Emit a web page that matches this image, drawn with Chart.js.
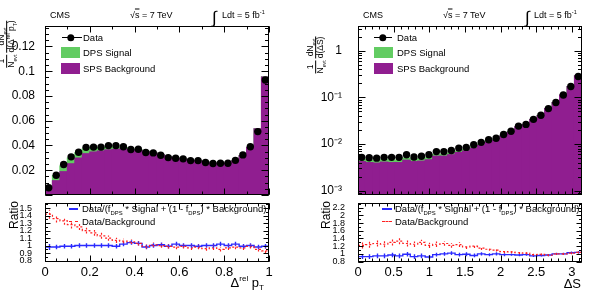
<!DOCTYPE html>
<html>
<head>
<meta charset="utf-8">
<script src="https://cdn.jsdelivr.net/npm/chart.js@4"></script>
<style>
body { margin: 0; width: 589px; height: 293px; background: #fff; position: relative; overflow: hidden; font-family: "Liberation Sans", Arial, sans-serif; color: #000; }
canvas { position: absolute; }
.lbl { position: absolute; white-space: nowrap; line-height: 1; transform: translateY(-50%); }
.lbl sub, .lbl sup, .ytitle sub, .ytitle sup { font-size: 0.62em; line-height: 0; }
.ytitle { position: absolute; white-space: nowrap; font-size: 8.5px; display: flex; align-items: center; gap: 2px; transform: translate(-50%, -50%) rotate(-90deg); }
.fr { display: inline-flex; flex-direction: column; text-align: center; line-height: 1.1; }
.fr .num { border-bottom: 0.8px solid #000; }
.rot { position: absolute; white-space: nowrap; font-size: 12px; transform: translate(-50%, -50%) rotate(-90deg); }
.box { position: absolute; }
.dot { position: absolute; width: 7.4px; height: 7.4px; border-radius: 50%; background: #000; transform: translate(-50%, -50%); }
</style>
</head>
<body>
<canvas id="ptMain" width="290" height="200" style="left:0;top:0"></canvas>
<canvas id="ptRatio" width="290" height="95" style="left:0;top:198px"></canvas>
<canvas id="dsMain" width="294" height="200" style="left:295px;top:0"></canvas>
<canvas id="dsRatio" width="294" height="95" style="left:295px;top:198px"></canvas>

<!-- header, left -->
<div class="lbl" style="left:50px;top:15px;font-size:9px">CMS</div>
<div class="lbl" style="left:130px;top:15px;font-size:9px">√<span style="text-decoration:overline">s</span> = 7 TeV</div>
<div class="lbl" style="left:212px;top:17px;font-size:17px">∫</div>
<div class="lbl" style="left:222px;top:15px;font-size:9px">Ldt = 5 fb<sup>-1</sup></div>
<!-- header, right -->
<div class="lbl" style="left:363px;top:15px;font-size:9px">CMS</div>
<div class="lbl" style="left:443px;top:15px;font-size:9px">√<span style="text-decoration:overline">s</span> = 7 TeV</div>
<div class="lbl" style="left:525px;top:17px;font-size:17px">∫</div>
<div class="lbl" style="left:534px;top:15px;font-size:9px">Ldt = 5 fb<sup>-1</sup></div>

<!-- y titles -->
<div class="ytitle" style="left:7px;top:44px">
  <span class="fr"><span class="num">1</span><span>N<sub>evt</sub></span></span>
  <span class="fr"><span class="num">dN<sub>evt</sub></span><span>d(Δ<sup>rel</sup> p<sub>T</sub>)</span></span>
</div>
<div class="ytitle" style="left:316px;top:55px">
  <span class="fr"><span class="num">1</span><span>N<sub>evt</sub></span></span>
  <span class="fr"><span class="num">dN<sub>evt</sub></span><span>d(ΔS)</span></span>
</div>
<div class="rot" style="left:14px;top:215px">Ratio</div>
<div class="rot" style="left:326px;top:215px">Ratio</div>

<!-- x titles -->
<div class="lbl" style="right:325px;top:282px;font-size:13px">Δ<sup>rel</sup> p<sub>T</sub></div>
<div class="lbl" style="right:8px;top:283px;font-size:13px">ΔS</div>

<!-- legends, main -->
<div class="box" style="left:62px;top:37px;width:20px;height:1px;background:#000"></div>
<div class="dot" style="left:71px;top:37.7px"></div>
<div class="lbl" style="left:83px;top:38px;font-size:9.5px">Data</div>
<div class="box" style="left:61px;top:47px;width:19px;height:11px;background:#62cc62"></div>
<div class="lbl" style="left:83px;top:53px;font-size:9.5px">DPS Signal</div>
<div class="box" style="left:61px;top:63px;width:19px;height:11px;background:#901e90"></div>
<div class="lbl" style="left:83px;top:69px;font-size:9.5px">SPS Background</div>

<div class="box" style="left:374px;top:37px;width:18px;height:1px;background:#000"></div>
<div class="dot" style="left:383px;top:37.7px"></div>
<div class="lbl" style="left:397px;top:38px;font-size:9.5px">Data</div>
<div class="box" style="left:374px;top:47px;width:19px;height:11px;background:#62cc62"></div>
<div class="lbl" style="left:397px;top:53px;font-size:9.5px">DPS Signal</div>
<div class="box" style="left:374px;top:63px;width:19px;height:11px;background:#901e90"></div>
<div class="lbl" style="left:397px;top:69px;font-size:9.5px">SPS Background</div>

<!-- legends, ratio -->
<div class="box" style="left:69px;top:208px;width:9px;height:1.5px;background:#2a2aff"></div>
<div class="lbl" style="left:82px;top:208.5px;font-size:9.5px">Data/(f<sub>DPS</sub> * Signal + (1 - f<sub>DPS</sub>) * Background)</div>
<div class="box" style="left:69px;top:221px;width:9px;height:0;border-top:1.2px dashed #ff2020"></div>
<div class="lbl" style="left:82px;top:222px;font-size:9.5px">Data/Background</div>

<div class="box" style="left:382px;top:208px;width:10px;height:1.5px;background:#2a2aff"></div>
<div class="lbl" style="left:395px;top:208.5px;font-size:9.5px">Data/(f<sub>DPS</sub> * Signal + (1 - f<sub>DPS</sub>) * Background)</div>
<div class="box" style="left:382px;top:221px;width:10px;height:0;border-top:1.2px dashed #ff2020"></div>
<div class="lbl" style="left:395px;top:222px;font-size:9.5px">Data/Background</div>

<script>
// binning
const nBins = 30;
const ptRange = [0, 1];
const dsRange = [0, Math.PI];

// Δrel pT: normalised distributions
const ptData  = [0.0058, 0.0160, 0.0246, 0.0308, 0.0345, 0.0385, 0.0387, 0.0387, 0.0399, 0.0399,
                 0.0390, 0.0367, 0.0370, 0.0343, 0.0340, 0.0321, 0.0302, 0.0297, 0.0292, 0.0278,
                 0.0278, 0.0262, 0.0254, 0.0256, 0.0256, 0.0280, 0.0324, 0.0390, 0.0512, 0.0929];
const ptTotal = [0.0050, 0.0155, 0.0235, 0.0298, 0.0340, 0.0373, 0.0379, 0.0382, 0.0388, 0.0386,
                 0.0383, 0.0371, 0.0365, 0.0352, 0.0342, 0.0326, 0.0308, 0.0298, 0.0290, 0.0280,
                 0.0275, 0.0265, 0.0258, 0.0256, 0.0258, 0.0276, 0.0318, 0.0385, 0.0535, 0.0955];
const ptBkg   = [0.0033, 0.0115, 0.0188, 0.0252, 0.0298, 0.0333, 0.0347, 0.0355, 0.0364, 0.0368,
                 0.0371, 0.0365, 0.0360, 0.0348, 0.0339, 0.0323, 0.0306, 0.0296, 0.0289, 0.0279,
                 0.0274, 0.0264, 0.0257, 0.0255, 0.0257, 0.0275, 0.0317, 0.0384, 0.0534, 0.0953];
// Δrel pT: ratios
const ptRatioFit    = [0.98, 0.98, 0.99, 0.99, 1.00, 1.00, 1.00, 1.00, 1.00, 0.99,
                       1.02, 1.04, 1.03, 0.98, 1.00, 1.01, 0.99, 1.02, 1.00, 1.00,
                       0.99, 1.00, 1.00, 1.02, 1.00, 1.02, 0.99, 1.00, 0.98, 0.99];
const ptRatioFitErr = [0.04, 0.03, 0.03, 0.03, 0.03, 0.03, 0.03, 0.03, 0.03, 0.03,
                       0.03, 0.03, 0.03, 0.03, 0.03, 0.03, 0.03, 0.03, 0.03, 0.03,
                       0.03, 0.03, 0.03, 0.03, 0.03, 0.03, 0.03, 0.03, 0.03, 0.03];
const ptRatioBkg    = [1.42, 1.36, 1.33, 1.28, 1.25, 1.20, 1.17, 1.13, 1.10, 1.07,
                       1.06, 1.05, 1.03, 0.99, 1.01, 1.00, 0.99, 0.98, 0.99, 0.97,
                       0.98, 0.96, 0.97, 0.95, 0.97, 0.98, 0.97, 0.99, 0.95, 0.93];
const ptRatioBkgErr = [0.06, 0.05, 0.05, 0.05, 0.04, 0.04, 0.04, 0.04, 0.035, 0.035,
                       0.03, 0.03, 0.03, 0.03, 0.03, 0.03, 0.03, 0.03, 0.03, 0.03,
                       0.03, 0.03, 0.03, 0.03, 0.03, 0.03, 0.03, 0.03, 0.03, 0.03];

// ΔS: normalised distributions
const dsData  = [0.0052, 0.0051, 0.0050, 0.0052, 0.0052, 0.0052, 0.0059, 0.0053, 0.0055, 0.0059,
                 0.0069, 0.0069, 0.0073, 0.0082, 0.0085, 0.0097, 0.0109, 0.0124, 0.0133, 0.0160,
                 0.0189, 0.0243, 0.0264, 0.0339, 0.0414, 0.0577, 0.0778, 0.1130, 0.1710, 0.2820];
const dsTotal = [0.0047, 0.0045, 0.0044, 0.0046, 0.0045, 0.0045, 0.0050, 0.0047, 0.0048, 0.0051,
                 0.0060, 0.0060, 0.0064, 0.0071, 0.0076, 0.0086, 0.0099, 0.0114, 0.0124, 0.0153,
                 0.0183, 0.0238, 0.0260, 0.0337, 0.0412, 0.0577, 0.0777, 0.1125, 0.1705, 0.2900];
const dsBkg   = [0.0042, 0.0040, 0.0039, 0.0041, 0.0040, 0.0040, 0.0045, 0.0042, 0.0043, 0.0046,
                 0.0055, 0.0055, 0.0059, 0.0066, 0.0071, 0.0081, 0.0094, 0.0109, 0.0120, 0.0149,
                 0.0179, 0.0235, 0.0257, 0.0334, 0.0409, 0.0574, 0.0774, 0.1118, 0.1698, 0.2885];
// ΔS: ratios
const dsRatioFit    = [0.93, 0.93, 0.95, 0.95, 0.97, 0.95, 0.99, 0.93, 0.95, 0.92,
                       0.98, 1.00, 1.02, 0.98, 0.99, 0.96, 1.00, 0.98, 1.00, 0.98,
                       0.98, 0.97, 0.98, 0.95, 0.96, 0.97, 1.00, 1.00, 1.03, 1.04];
const dsRatioFitErr = [0.06, 0.06, 0.06, 0.06, 0.06, 0.06, 0.06, 0.06, 0.06, 0.05,
                       0.05, 0.05, 0.05, 0.05, 0.05, 0.05, 0.04, 0.04, 0.04, 0.04,
                       0.03, 0.03, 0.03, 0.03, 0.03, 0.03, 0.03, 0.03, 0.03, 0.03];
const dsRatioBkg    = [1.22, 1.24, 1.27, 1.25, 1.30, 1.33, 1.27, 1.25, 1.30, 1.22,
                       1.25, 1.27, 1.22, 1.24, 1.18, 1.20, 1.15, 1.12, 1.10, 1.06,
                       1.05, 1.03, 1.02, 0.98, 0.99, 0.97, 1.00, 1.00, 1.02, 1.04];
const dsRatioBkgErr = [0.08, 0.08, 0.08, 0.08, 0.08, 0.08, 0.08, 0.07, 0.07, 0.07,
                       0.07, 0.06, 0.06, 0.06, 0.05, 0.05, 0.05, 0.04, 0.04, 0.04,
                       0.03, 0.03, 0.03, 0.03, 0.03, 0.03, 0.03, 0.03, 0.03, 0.03];

// tick labels
const ptMainYTicks  = [0.02, 0.04, 0.06, 0.08, 0.1, 0.12];
const ptXTicks      = [0, 0.2, 0.4, 0.6, 0.8, 1];
const ptRatioYTicks = [0.8, 0.9, 1, 1.1, 1.2, 1.3, 1.4, 1.5];
const dsMainYTicks  = [0.001, 0.01, 0.1, 1];
const dsMainYLabels = ['10⁻³', '10⁻²', '10⁻¹', '1'];
const dsXTicks      = [0, 0.5, 1, 1.5, 2, 2.5, 3];
const dsRatioYTicks = [0.8, 1, 1.2, 1.4, 1.6, 1.8, 2, 2.2];

const GREEN = '#62cc62', PURPLE = '#901e90', BLUE = '#2a2aff', RED = '#ff2020';
const FONT = 'Liberation Sans';

function edgesOf(range) {
  return Array.from({length: nBins + 1}, (_, i) => range[0] + (range[1] - range[0]) * i / nBins);
}
function centersOf(edges) {
  return edges.slice(0, -1).map((e, i) => (e + edges[i + 1]) / 2);
}
function stepsOf(range, step) {
  const out = [];
  for (let v = range[0]; v <= range[1] + 1e-9; v += step) out.push(+v.toFixed(6));
  return out;
}
function logMinor(lo, hi) {
  const out = [];
  for (let e = -4; e <= 1; e++) for (let k = 2; k <= 9; k++) {
    const v = k * Math.pow(10, e);
    if (v >= lo && v <= hi) out.push(v);
  }
  return out;
}
const fmt = v => String(+v.toFixed(3));

// frame with ROOT-style inner ticks on all four sides
const rootFrame = {
  id: 'rootFrame',
  afterDatasetsDraw(chart, args, o) {
    const {ctx, chartArea: a} = chart;
    const xs = chart.scales.x, ys = chart.scales.y;
    const L = Math.round(a.left) + 0.5, R = Math.round(a.right) - 0.5;
    const T = Math.round(a.top) + 0.5, B = Math.round(a.bottom) - 0.5;
    ctx.save();
    ctx.strokeStyle = '#000';
    ctx.lineWidth = 1;
    ctx.beginPath();
    [[o.xMajor, o.xLen[0]], [o.xMinor, o.xLen[1]]].forEach(([vals, len]) => vals.forEach(v => {
      const p = Math.round(xs.getPixelForValue(v)) + 0.5;
      if (p < L || p > R + 1) return;
      ctx.moveTo(p, B); ctx.lineTo(p, B - len);
      ctx.moveTo(p, T); ctx.lineTo(p, T + len);
    }));
    [[o.yMajor, o.yLen[0]], [o.yMinor, o.yLen[1]]].forEach(([vals, len]) => vals.forEach(v => {
      const p = Math.round(ys.getPixelForValue(v)) + 0.5;
      if (p < T || p > B + 1) return;
      ctx.moveTo(L, p); ctx.lineTo(L + len, p);
      ctx.moveTo(R, p); ctx.lineTo(R - len, p);
    }));
    ctx.stroke();
    ctx.strokeRect(L, T, R - L, B - T);
    ctx.restore();
  }
};

// vertical error bars for the ratio histograms
const errBars = {
  id: 'errBars',
  afterDatasetsDraw(chart) {
    const {ctx} = chart;
    const xs = chart.scales.x, ys = chart.scales.y;
    ctx.save();
    ctx.beginPath();
    ctx.rect(chart.chartArea.left, chart.chartArea.top, chart.chartArea.width, chart.chartArea.height);
    ctx.clip();
    chart.data.datasets.slice().reverse().forEach(ds => {
      if (!ds.errY) return;
      ctx.strokeStyle = ds.borderColor;
      ctx.lineWidth = ds.borderWidth;
      ctx.setLineDash(ds.borderDash || []);
      ctx.beginPath();
      ds.errX.forEach((c, i) => {
        const v = ds.values[i], e = ds.errY[i];
        const px = Math.round(xs.getPixelForValue(c)) + 0.5;
        ctx.moveTo(px, ys.getPixelForValue(v - e));
        ctx.lineTo(px, ys.getPixelForValue(v + e));
      });
      ctx.stroke();
    });
    ctx.restore();
  }
};

function fixedAxis(size, horizontal) {
  return s => {
    if (horizontal) { s.height = size; s.paddingLeft = 0; s.paddingRight = 0; }
    else { s.width = size; s.paddingTop = 0; s.paddingBottom = 0; }
  };
}

function mainChart(id, range, data, total, bkg, y, frame, padRight, yWidth) {
  const edges = edgesOf(range);
  const centers = centersOf(edges);
  const bars = (vals, color, order) => ({
    type: 'bar', data: vals.map((v, i) => ({x: centers[i], y: v})),
    backgroundColor: color, borderWidth: 0, grouped: false, inflateAmount: 0.6,
    categoryPercentage: 1, barPercentage: 1, order
  });
  new Chart(document.getElementById(id), {
    type: 'bar',
    data: {
      datasets: [
        {type: 'line', data: data.map((v, i) => ({x: centers[i], y: v})), showLine: false,
         pointRadius: 3.7, pointBackgroundColor: '#000', pointBorderWidth: 0, borderColor: '#000', order: 0},
        bars(bkg, PURPLE, 1),
        bars(total, GREEN, 2)
      ]
    },
    options: {
      responsive: false, animation: false, events: [],
      layout: {padding: {left: 0, right: padRight, top: 26, bottom: 5}},
      plugins: {legend: {display: false}, tooltip: {enabled: false}, rootFrame: frame},
      scales: {
        x: {type: 'linear', min: range[0], max: range[1], offset: false, display: false},
        y: Object.assign({
          grid: {display: false}, border: {display: false},
          afterFit: fixedAxis(yWidth, false)
        }, y)
      }
    },
    plugins: [rootFrame]
  });
}

function ratioChart(id, range, fit, fitErr, bkg, bkgErr, y, xTicks, frame, padRight, yWidth) {
  const edges = edgesOf(range);
  const centers = centersOf(edges);
  const steps = vals => edges.map((e, i) => ({x: e, y: vals[Math.min(i, vals.length - 1)]}));
  new Chart(document.getElementById(id), {
    type: 'line',
    data: {
      datasets: [
        {data: steps(bkg), values: bkg, errY: bkgErr, errX: centers, stepped: true,
         borderColor: RED, borderWidth: 1.2, borderDash: [2, 2], pointRadius: 0, order: 0},
        {data: steps(fit), values: fit, errY: fitErr, errX: centers, stepped: true,
         borderColor: BLUE, borderWidth: 1.4, pointRadius: 0, order: 1}
      ]
    },
    options: {
      responsive: false, animation: false, events: [],
      layout: {padding: {left: 0, right: padRight, top: 5, bottom: 0}},
      plugins: {legend: {display: false}, tooltip: {enabled: false}, rootFrame: frame},
      scales: {
        x: {
          type: 'linear', min: range[0], max: range[1], offset: false,
          grid: {display: false}, border: {display: false},
          afterBuildTicks: s => { s.ticks = xTicks.map(v => ({value: v})); },
          ticks: {autoSkip: false, maxRotation: 0, padding: -5, color: '#000', font: {family: FONT, size: 13}, callback: fmt},
          afterFit: fixedAxis(31, true)
        },
        y: Object.assign({
          grid: {display: false}, border: {display: false},
          afterFit: fixedAxis(yWidth, false)
        }, y)
      }
    },
    plugins: [errBars, rootFrame]
  });
}

// Δrel pT panel
mainChart('ptMain', ptRange, ptData, ptTotal, ptBkg, {
  type: 'linear', min: 0, max: 0.1365,
  afterBuildTicks: s => { s.ticks = ptMainYTicks.map(v => ({value: v})); },
  ticks: {autoSkip: false, padding: 2, color: '#000', font: {family: FONT, size: 12}, callback: fmt}
}, {
  xMajor: stepsOf(ptRange, 0.2), xMinor: stepsOf(ptRange, 0.1), xLen: [6, 3],
  yMajor: stepsOf([0, 0.13], 0.02), yMinor: stepsOf([0, 0.135], 0.005), yLen: [7, 3.5]
}, 21, 45);

ratioChart('ptRatio', ptRange, ptRatioFit, ptRatioFitErr, ptRatioBkg, ptRatioBkgErr, {
  type: 'linear', min: 0.78, max: 1.57,
  afterBuildTicks: s => { s.ticks = ptRatioYTicks.map(v => ({value: v})); },
  ticks: {autoSkip: false, padding: 5, color: '#000', font: {family: FONT, size: 9}, callback: fmt}
}, ptXTicks, {
  xMajor: stepsOf(ptRange, 0.2), xMinor: stepsOf(ptRange, 0.05), xLen: [6, 3],
  yMajor: ptRatioYTicks, yMinor: stepsOf([0.8, 1.55], 0.05), yLen: [5, 2.5]
}, 21, 45);

// ΔS panel
mainChart('dsMain', dsRange, dsData, dsTotal, dsBkg, {
  type: 'logarithmic', min: 0.00081, max: 3.4,
  afterBuildTicks: s => { s.ticks = dsMainYTicks.map(v => ({value: v})); },
  ticks: {autoSkip: false, padding: 8, color: '#000', font: {family: FONT, size: 12},
           callback: (v, i) => dsMainYLabels[i]}
}, {
  xMajor: stepsOf([0, 3], 0.5), xMinor: stepsOf([0, 3.1], 0.1), xLen: [6, 3],
  yMajor: dsMainYTicks, yMinor: logMinor(0.00081, 3.4), yLen: [7, 3.5]
}, 7, 63);

ratioChart('dsRatio', dsRange, dsRatioFit, dsRatioFitErr, dsRatioBkg, dsRatioBkgErr, {
  type: 'linear', min: 0.79, max: 2.32,
  afterBuildTicks: s => { s.ticks = dsRatioYTicks.map(v => ({value: v})); },
  ticks: {autoSkip: false, padding: 5, color: '#000', font: {family: FONT, size: 9}, callback: fmt}
}, dsXTicks, {
  xMajor: stepsOf([0, 3], 0.5), xMinor: stepsOf([0, 3.1], 0.1), xLen: [6, 3],
  yMajor: dsRatioYTicks, yMinor: stepsOf([0.8, 2.3], 0.1), yLen: [5, 2.5]
}, 7, 63);
</script>
</body>
</html>
